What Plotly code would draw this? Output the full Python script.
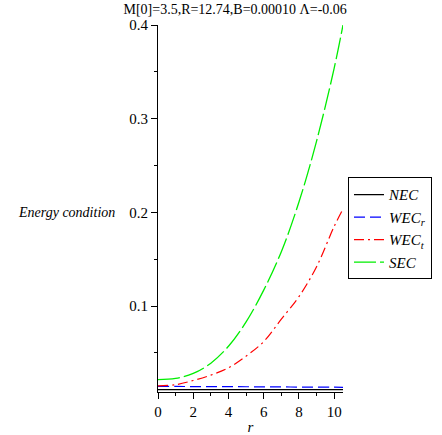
import plotly.graph_objects as go

r_vals = [0, 1, 2, 3, 4, 5, 6, 7, 8, 9, 10, 10.5]
nec_vals = [0.0108, 0.0108, 0.0108, 0.0108, 0.0108, 0.0108, 0.0108, 0.0108, 0.0108, 0.0108, 0.0108, 0.0108]
wec_r_vals = [0.0141, 0.0141, 0.0140, 0.0140, 0.0139, 0.0138, 0.0137, 0.0136, 0.0135, 0.0134, 0.0133, 0.0132]
wec_t_vals = [0.0147, 0.0160, 0.0205, 0.0262, 0.0340, 0.0465, 0.0620, 0.0860, 0.1100, 0.1420, 0.1850, 0.2035]
sec_vals = [0.0215, 0.0227, 0.0280, 0.0390, 0.0570, 0.0830, 0.1170, 0.1580, 0.2110, 0.2760, 0.3540, 0.4000]

title_text = "M[0]=3.5,R=12.74,B=0.00010 Λ=-0.06"
y_label = "Energy condition"
x_label = "r"

serif = "Liberation Serif, Times New Roman, serif"

fig = go.Figure()
fig.add_trace(go.Scatter(x=r_vals, y=nec_vals, mode="lines", name="<i>NEC</i>",
                         line=dict(color="black", width=1.2, shape="spline")))
fig.add_trace(go.Scatter(x=r_vals, y=wec_r_vals, mode="lines", name="<i>WEC<sub>r</sub></i>",
                         line=dict(color="blue", width=1.2, dash="11px,5px", shape="spline")))
fig.add_trace(go.Scatter(x=r_vals, y=wec_t_vals, mode="lines", name="<i>WEC<sub>t</sub></i>",
                         line=dict(color="red", width=1.2, dash="10px,4px,2px,4px", shape="spline")))
fig.add_trace(go.Scatter(x=r_vals, y=sec_vals, mode="lines", name="<i>SEC</i>",
                         line=dict(color="#00ee00", width=1.3, dash="22px,4px", shape="spline")))

fig.update_layout(
    width=442, height=435,
    margin=dict(l=158, r=99, t=25, b=43, autoexpand=False),
    paper_bgcolor="white", plot_bgcolor="white",
    font=dict(family=serif, size=14, color="black"),
    title=dict(text=title_text, x=0.532, xref="container", xanchor="center",
               y=1 - 9 / 435, yref="container", yanchor="middle",
               font=dict(family=serif, size=14, color="black")),
    showlegend=True,
    legend=dict(x=1.027, xanchor="left", y=0.585, yanchor="top",
                bordercolor="black", borderwidth=1, bgcolor="white",
                font=dict(family=serif, size=15, color="black"),
                tracegroupgap=0, itemwidth=30),
    xaxis=dict(range=[0, 10.5], tick0=0, dtick=2, ticks="outside", ticklen=6,
               tickcolor="black", tickwidth=1,
               minor=dict(dtick=1, ticks="outside", ticklen=3, tickcolor="black"),
               showline=True, linecolor="black", linewidth=1, mirror=False,
               showgrid=False, zeroline=False,
               tickfont=dict(family=serif, size=15),
               title=dict(text="<i>" + x_label + "</i>", standoff=2,
                          font=dict(family=serif, size=15))),
    yaxis=dict(range=[0.0082, 0.4], tick0=0, dtick=0.1, ticks="outside", ticklen=6,
               tickcolor="black", tickwidth=1,
               minor=dict(dtick=0.05, ticks="outside", ticklen=3, tickcolor="black"),
               showline=True, linecolor="black", linewidth=1, mirror=False,
               showgrid=False, zeroline=False,
               tickfont=dict(family=serif, size=15)),
    annotations=[dict(text="<i>" + y_label + "</i>", xref="paper", yref="y",
                      x=-0.222, y=0.2, xanchor="right", yanchor="middle",
                      showarrow=False, font=dict(family=serif, size=14))],
)

fig.write_html("out.html", config={"displayModeBar": False},
               post_script="document.body.style.margin='0';")
